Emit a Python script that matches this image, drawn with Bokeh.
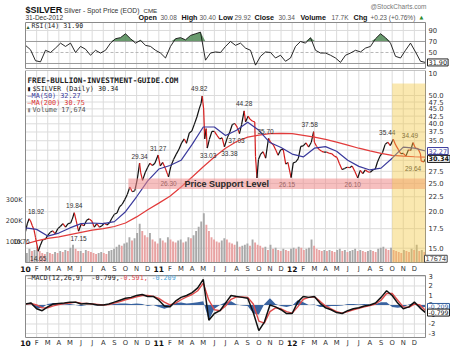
import math
import numpy as np
import pandas as pd
from bokeh.plotting import figure
from bokeh.layouts import column
from bokeh.models import (Range1d, LinearScale, Label, BoxAnnotation, ColumnDataSource)
from bokeh.core.properties import value
from bokeh.embed import file_html
from bokeh.resources import INLINE

# ---------------- data ----------------
price_dates = [
    "2010-01-01", "2010-01-06", "2010-01-11", "2010-01-15", "2010-01-20", "2010-01-25", "2010-01-29",
    "2010-02-05", "2010-02-10", "2010-02-16", "2010-02-23", "2010-03-01", "2010-03-08", "2010-03-15",
    "2010-03-22", "2010-03-29", "2010-04-05", "2010-04-12", "2010-04-19", "2010-04-26", "2010-05-03",
    "2010-05-07", "2010-05-13", "2010-05-18", "2010-05-25", "2010-06-01", "2010-06-09", "2010-06-16",
    "2010-06-23", "2010-06-30", "2010-07-07", "2010-07-14", "2010-07-21", "2010-07-28", "2010-08-04",
    "2010-08-11", "2010-08-18", "2010-08-25", "2010-09-01", "2010-09-08", "2010-09-15", "2010-09-22",
    "2010-09-29", "2010-10-06", "2010-10-13", "2010-10-20", "2010-10-27", "2010-11-03", "2010-11-09",
    "2010-11-12", "2010-11-17", "2010-11-24", "2010-12-01", "2010-12-07", "2010-12-14", "2010-12-21",
    "2010-12-30",
    "2011-01-05", "2011-01-12", "2011-01-19", "2011-01-25", "2011-01-28", "2011-02-03", "2011-02-10",
    "2011-02-17", "2011-02-24", "2011-03-03", "2011-03-10", "2011-03-16", "2011-03-24", "2011-03-31",
    "2011-04-07", "2011-04-14", "2011-04-20", "2011-04-25", "2011-04-28", "2011-05-02", "2011-05-05",
    "2011-05-09", "2011-05-12", "2011-05-18", "2011-05-25", "2011-06-01", "2011-06-08", "2011-06-15",
    "2011-06-22", "2011-06-28", "2011-07-06", "2011-07-13", "2011-07-20", "2011-07-27", "2011-08-03",
    "2011-08-09", "2011-08-15", "2011-08-22", "2011-08-26", "2011-09-02", "2011-09-07", "2011-09-14",
    "2011-09-20", "2011-09-22", "2011-09-26", "2011-09-30", "2011-10-06", "2011-10-13", "2011-10-20",
    "2011-10-28", "2011-11-03", "2011-11-10", "2011-11-17", "2011-11-23", "2011-11-30", "2011-12-07",
    "2011-12-14", "2011-12-20", "2011-12-29",
    "2012-01-04", "2012-01-11", "2012-01-18", "2012-01-25", "2012-02-01", "2012-02-08", "2012-02-15",
    "2012-02-22", "2012-02-28", "2012-03-01", "2012-03-07", "2012-03-14", "2012-03-21", "2012-03-28",
    "2012-04-04", "2012-04-11", "2012-04-18", "2012-04-25", "2012-05-02", "2012-05-09", "2012-05-16",
    "2012-05-23", "2012-05-30", "2012-06-06", "2012-06-13", "2012-06-20", "2012-06-28", "2012-07-05",
    "2012-07-12", "2012-07-19", "2012-07-26", "2012-08-02", "2012-08-09", "2012-08-16", "2012-08-22",
    "2012-08-29", "2012-09-05", "2012-09-12", "2012-09-19", "2012-09-26", "2012-10-04", "2012-10-11",
    "2012-10-18", "2012-10-25", "2012-11-01", "2012-11-08", "2012-11-15", "2012-11-21", "2012-11-27",
    "2012-12-04", "2012-12-11", "2012-12-18", "2012-12-20", "2012-12-28", "2012-12-31",
]
price_close = [
    17.10, 18.20, 18.92, 18.60, 17.90, 17.30, 16.30,
    14.65, 15.30, 16.00, 16.10, 16.60, 17.00, 17.20,
    16.80, 17.50, 17.80, 18.20, 17.70, 18.20, 18.30,
    18.80, 19.84, 18.70, 17.15, 18.10, 17.90, 18.70,
    18.90, 18.60, 17.70, 18.20, 17.70, 17.90, 18.30,
    18.00, 18.30, 19.00, 19.60, 19.80, 20.80, 21.20,
    22.00, 22.90, 24.30, 23.40, 23.60, 25.90, 29.34,
    27.20, 25.60, 27.20, 28.40, 29.30, 28.80, 29.30,
    31.27,
    28.70, 29.50, 28.20, 26.90, 26.30, 28.50, 30.20,
    31.50, 32.80, 34.50, 35.50, 34.30, 37.20, 37.80,
    39.90, 42.30, 45.00, 47.00, 49.82, 45.00, 35.50,
    38.50, 33.03, 35.40, 37.70, 37.70, 36.50, 35.50,
    35.80, 33.38, 35.80, 37.50, 39.80, 40.10, 38.90,
    37.03, 39.80, 44.28, 40.60, 42.50, 41.50, 40.80,
    40.60, 30.90, 26.10, 30.20, 31.50, 32.10, 30.50,
    35.70, 34.50, 33.90, 32.50, 31.20, 32.60, 32.70,
    29.10, 29.50, 26.15,
    29.40, 29.60, 30.40, 33.50, 33.60, 34.40, 33.30,
    34.60, 37.58, 34.60, 33.50, 32.70, 32.20, 32.00,
    32.00, 31.70, 31.60, 31.00, 30.70, 29.20, 27.90,
    28.10, 28.40, 28.30, 28.70, 27.50, 26.10, 27.70,
    27.00, 27.80, 27.40, 27.30, 27.80, 28.00, 29.60,
    31.00, 31.90, 34.00, 34.60, 33.70, 35.44, 33.80,
    32.70, 31.60, 31.70, 31.00, 32.60, 32.40, 34.49,
    33.00, 32.90, 31.50, 29.80, 29.64, 30.34,
]

# labelled swing highs / lows
ext_dates = ["2010-01-11", "2010-02-05", "2010-05-13", "2010-05-25", "2010-11-09", "2010-12-30",
             "2011-01-28", "2011-04-28", "2011-05-12", "2011-06-28", "2011-08-09", "2011-08-22",
             "2011-10-28", "2011-12-29", "2012-02-28", "2012-06-28", "2012-10-04", "2012-11-27",
             "2012-12-28"]
ext_values = [18.92, 14.65, 19.84, 17.15, 29.34, 31.27, 26.30, 49.82, 33.03, 33.38, 37.03, 44.28,
              35.70, 26.15, 37.58, 26.10, 35.44, 34.49, 29.64]
ext_kind = ["H", "L", "H", "L", "H", "H", "L", "H", "L", "L", "L", "H",
            "H", "L", "H", "L", "H", "H", "L"]
ext_nudge = [7, 0, 0, 0, 0, 0, 0, -3, 1, 5, -3, 0, -3, -4, -4, -5, -6, -3, -11]  # style: px shifts

ma_months = list(range(37))
ma50 = [17.6, 17.4, 16.5, 16.9, 17.6, 18.2, 18.3, 18.2, 18.5, 20.0,
        22.5, 25.5, 28.0, 28.8, 30.0, 34.0, 39.0, 39.0, 36.5, 38.0,
        40.5, 38.0, 34.5, 33.2, 31.5, 30.8, 33.0, 33.4, 32.2, 30.0,
        28.6, 27.8, 28.2, 30.5, 33.3, 33.0, 32.27]
ma200 = [15.5, 15.9, 16.2, 16.4, 16.7, 17.0, 17.3, 17.5, 17.8, 18.3,
         19.2, 20.3, 21.4, 22.6, 24.3, 26.3, 28.5, 30.8, 33.0, 34.8,
         36.0, 36.6, 37.0, 37.1, 37.0, 36.5, 36.0, 35.4, 34.6, 33.8,
         33.0, 32.3, 31.7, 31.2, 31.0, 30.85, 30.75]

volume_k = [
    45, 65, 55, 60, 75, 55, 45, 40, 50, 45, 40, 50, 45,
    55, 50, 60, 55, 70, 85, 65, 55, 55, 45, 60, 55, 50,
    45, 40, 45, 50, 45, 40, 55, 60, 65, 75, 85, 80, 90,
    95, 120, 105, 115, 140, 185, 150, 130, 120, 140, 110, 100, 90,
    115, 105, 95, 120, 110, 100, 95, 105, 110, 95, 100, 120, 115,
    130, 150, 170, 195, 235, 180, 150, 120, 110, 100, 95, 105, 115,
    110, 95, 90, 85, 100, 75, 80, 85, 90, 80, 110, 95, 85,
    80, 70, 75, 60, 85, 65, 70, 60, 55, 65, 60, 55, 65,
    70, 65, 75, 70, 60, 65, 70, 110, 80, 65, 60, 55, 60,
    55, 60, 55, 50, 60, 65, 55, 60, 50, 55, 60, 65, 55,
    60, 55, 50, 55, 60, 55, 50, 65, 70, 75, 65, 60, 70,
    60, 55, 50, 45, 60, 55, 50, 65, 60, 85, 55, 60, 50,
]

rsi_vals = [63, 55, 35, 33, 54, 50, 58, 67, 61, 67, 50, 61, 56, 45, 54, 49, 54, 67, 75, 77,
            84, 75, 67, 72, 63, 61, 54, 49, 40, 61, 75, 77, 73, 81, 84, 87, 36, 49, 51, 50,
            61, 70, 63, 67, 58, 54, 27, 43, 51, 50, 40, 45, 34, 40, 61, 70, 67, 77, 54, 49,
            49, 45, 40, 32, 45, 49, 54, 51, 58, 61, 75, 84, 77, 67, 43, 40, 54, 67, 51, 34, 31.9]

macd_vals = [0.1, 0.2, -0.4, -0.6, -0.2, 0.1, 0.15, 0.2, 0.3, 0.3,
             0.1, 0.15, 0.1, 0.0, 0.0, 0.1, 0.3, 0.5, 0.7, 0.8,
             1.0, 1.1, 0.9, 0.9, 0.5, -0.1, -0.2, 0.4, 0.8, 1.0,
             1.3, 1.8, 2.7, -1.6, -0.9, -0.6, 0.2, 1.0, 0.9, 0.8,
             0.7, -0.8, -2.7, -1.8, 0.0, -0.2, -0.5, -0.9, -0.9, 0.3,
             0.9, 0.8, 0.9, 0.2, -0.3, -0.5, -0.8, -0.9, -0.6, -0.4,
             -0.3, -0.1, 0.0, 0.2, 0.8, 1.5, 1.0, 0.2, -0.4, -0.2,
             0.3, -0.3, -0.799]
signal_vals = [0.1, 0.15, 0.0, -0.3, -0.3, -0.1, 0.05, 0.15, 0.2, 0.3,
               0.2, 0.15, 0.1, 0.05, 0.0, 0.05, 0.2, 0.35, 0.55, 0.7,
               0.85, 1.0, 1.0, 0.9, 0.7, 0.3, 0.0, 0.2, 0.55, 0.85,
               1.1, 1.5, 2.3, 0.5, -0.5, -0.6, -0.1, 0.6, 0.85, 0.85,
               0.8, 0.1, -1.7, -1.9, -0.7, -0.3, -0.4, -0.7, -0.85, -0.2,
               0.6, 0.8, 0.85, 0.4, -0.1, -0.4, -0.7, -0.85, -0.7, -0.5,
               -0.35, -0.2, -0.05, 0.1, 0.5, 1.2, 1.2, 0.5, -0.2, -0.25,
               0.1, 0.0, -0.591]
hist_vals = [0.0, 0.05, -0.4, -0.3, 0.1, 0.2, 0.1, 0.05, 0.1, 0.0,
             -0.1, 0.0, 0.0, -0.05, 0.0, 0.05, 0.1, 0.15, 0.15, 0.1,
             0.15, 0.1, -0.1, 0.0, -0.2, -0.4, -0.2, 0.2, 0.25, 0.15,
             0.2, 0.3, 0.4, -1.6, -0.4, 0.0, 0.3, 0.4, 0.05, -0.05,
             -0.1, -0.9, -1.0, 0.1, 0.7, 0.1, -0.1, -0.2, -0.05, 0.5,
             0.3, 0.0, 0.05, -0.2, -0.2, -0.1, -0.1, -0.05, 0.1, 0.1,
             0.05, 0.1, 0.05, 0.1, 0.3, 0.3, -0.2, -0.3, -0.2, 0.05,
             0.2, -0.3, -0.209]

month_letters = ["J", "F", "M", "A", "M", "J", "J", "A", "S", "O", "N", "D"]
year_labels = ["10", "11", "12"]
price_ticks = [15.0, 17.5, 20.0, 22.5, 25.0, 27.5, 30.0, 32.5, 35.0, 37.5, 40.0, 42.5, 45.0, 47.5, 50.0]
rsi_ticks = [10, 30, 50, 70, 90]
macd_ticks = [-3, -2, -1, 0, 1, 2, 3]
vol_ticks = [100000, 200000, 300000]
vol_tick_labels = ["100K", "200K", "300K"]

support_low, support_high, support_start = 23.9, 26.0, "2010-10-09"
highlight_start = "2012-10-01"

# ---------------- geometry helpers (page pixels -> data) ----------------
PXM = 400 / 36.0
XR = (-25 / PXM, 36 + 25 / PXM)
RSI_TOP, RSI_BOT = 104.5, 20.9          # RSI panel frame 22..68 px
PMAX, PMIN = 60.9, 13.4                 # price panel frame 70..262 px
VPX = 21.0 / 100000                     # volume px per unit, zero at 262 px
M_TOP, M_BOT = 3.1, -3.42               # MACD panel frame 275..337 px


def to_month(d):
    t = pd.Timestamp(d)
    return (t.year - 2010) * 12 + (t.month - 1) + (t.day - 1) / t.days_in_month


def mx(px):
    return (px - 25) / PXM


def y_rsi(py):
    return RSI_TOP - (py - 22) / 46.0 * (RSI_TOP - RSI_BOT)


def y_main(py):
    return math.exp(math.log(PMAX) - (py - 70) / 192.0 * (math.log(PMAX) - math.log(PMIN)))


def y_vol(py):
    return (262 - py) / VPX


def y_macd(py):
    return M_TOP - (py - 275) / 62.0 * (M_TOP - M_BOT)


AX_FONT = "DejaVu Sans"
MONO = "DejaVu Sans Mono"
SANS = "Liberation Sans"
GRID = "#dcdcdc"
BORDER = "#8a8a8a"
month_ticks = list(range(36))


def panel_fig(height, yr, ytype="linear"):
    p = figure(width=450, height=height, x_range=Range1d(*XR), y_range=yr, y_axis_type=ytype,
               x_axis_location=None, y_axis_location=None, output_backend="svg",
               toolbar_location=None, min_border=0)
    p.min_border_left = p.min_border_right = p.min_border_top = p.min_border_bottom = 0
    p.outline_line_color = None
    p.grid.visible = False
    return p


def draw_grid(p, yticks, ybot, ytop):
    vt = month_ticks[1:]
    p.segment(x0=vt, y0=[ybot] * len(vt), x1=vt, y1=[ytop] * len(vt), line_color=GRID, line_width=1)
    p.segment(x0=[0] * len(yticks), y0=yticks, x1=[36] * len(yticks), y1=yticks,
              line_color=GRID, line_width=1)


def draw_border(p, ybot, ytop):
    p.quad(left=[0], right=[36], bottom=[ybot], top=[ytop], fill_color=None, line_color=BORDER)


def ylabels(p, ticks, texts, **kw):
    p.text(x=[mx(428)] * len(ticks), y=ticks, text=texts, text_font=value(AX_FONT),
           text_font_size="6.8px", text_color="#333333", text_baseline="middle",
           text_align="left", **kw)


def xlabels(p, y):
    nm = [i for i in month_ticks if i % 12]
    p.text(x=nm, y=[y] * len(nm), text=[month_letters[i % 12] for i in nm],
           text_font=value(AX_FONT), text_font_size="6.8px", text_color="#333333",
           text_align="center", text_baseline="middle")
    yr = [i for i in month_ticks if i % 12 == 0]
    p.text(x=yr, y=[y] * len(yr), text=year_labels, text_font=value(AX_FONT),
           text_font_size="7.5px", text_font_style="bold", text_color="#111111",
           text_align="center", text_baseline="middle")


def lab(p, px, y, text, font=MONO, size="6.8px", color="#222222", style="normal", align="left", **kw):
    p.add_layout(Label(x=mx(px), y=y, text=text, text_font=font, text_font_size=size,
                       text_color=color, text_font_style=style, text_align=align,
                       text_baseline="middle", **kw))


def box(p, px, y, text, color, bold=False, size="6.5px", **kw):
    p.add_layout(Label(x=mx(px), y=y, text=text, text_font=AX_FONT, text_font_size=size,
                       text_font_style=("bold" if bold else "normal"), text_color=color,
                       text_baseline="middle", border_line_color=color,
                       background_fill_color="white", padding=1, **kw))


# ---------------- header + RSI panel (page 0..70 px) ----------------
pr = panel_fig(70, Range1d(y_rsi(70), y_rsi(0)))
draw_grid(pr, [90], RSI_BOT, RSI_TOP)
rsi_x = np.linspace(0, 36, len(rsi_vals))
rsi_arr = np.array(rsi_vals, dtype=float)
pr.varea(x=rsi_x, y1=np.full(len(rsi_arr), 70.0), y2=np.maximum(rsi_arr, 70.0),
         fill_color="#4f8a55", fill_alpha=0.85)
pr.segment(x0=[0, 0], y0=[70, 30], x1=[36, 36], y1=[70, 30], line_color="#9a9a9a", line_width=1)
pr.segment(x0=[0], y0=[50], x1=[36], y1=[50], line_color="#b8b8b8", line_width=1, line_dash="3 2")
pr.line(rsi_x, rsi_arr, line_color="#111111", line_width=0.9)
draw_border(pr, RSI_BOT, RSI_TOP)
ylabels(pr, rsi_ticks[1:], [str(t) for t in rsi_ticks[1:]])

lab(pr, 25, y_rsi(9), "$SILVER", font=SANS, size="9px", style="bold", color="#111111")
lab(pr, 63.5, y_rsi(9.5), "Silver - Spot Price (EOD)", font=SANS, size="6.8px", color="#333333")
lab(pr, 143, y_rsi(10), "CME", font=SANS, size="6.2px", color="#333333")
lab(pr, 25, y_rsi(16.5), "31-Dec-2012", font=SANS, size="6.5px", color="#333333")
lab(pr, 426, y_rsi(6), "@StockCharts.com", font=SANS, size="6.5px", color="#777777", align="right")
hdr = [("Open", 138, True), ("30.08", 160, False), ("High", 181, True), ("30.40", 199, False),
       ("Low", 218, True), ("29.92", 234, False), ("Close", 254, True), ("30.34", 278, False),
       ("Volume", 300, True), ("17.7K", 331, False), ("Chg", 353, True),
       ("+0.23 (+0.76%)", 370, False)]
for t, x0, b in hdr:
    lab(pr, x0, y_rsi(16.5), t, font=SANS, size=("7.2px" if b else "6.5px"),
        style=("bold" if b else "normal"), color=("#111111" if b else "#555555"))
lab(pr, 419, y_rsi(16.5), "\u25b2", font=AX_FONT, size="5px", color="#2e8b2e")
lab(pr, 26, y_rsi(25.5), "\u25b4", font=AX_FONT, size="6px", color="#2b5a2b")
lab(pr, 31, y_rsi(25.5), "RSI(14) 31.90", size="6.6px", color="#222222")
box(pr, 427, 31.9, "31.90", "#222222")

# ---------------- main price panel (page 70..272 px) ----------------
pm = panel_fig(202, Range1d(y_main(272), y_main(70)), ytype="log")
pm.extra_y_ranges = {"vol": Range1d(y_vol(272), y_vol(70))}
pm.extra_y_scales = {"vol": LinearScale()}
draw_grid(pm, price_ticks, PMIN, PMAX)

vol = np.array(volume_k, dtype=float) * 1000
vol_x = np.linspace(0.12, 35.9, len(vol))
vol_col = ["#a9a9a9"] + ["#a9a9a9" if b >= a else "#e8a2a2" for a, b in zip(vol[:-1], vol[1:])]
pm.vbar(x=vol_x, top=vol, bottom=0, width=0.17, fill_color=vol_col, line_color=None,
        y_range_name="vol")

px_ = [to_month(d) for d in price_dates]
seg = ColumnDataSource(dict(
    x0=px_[:-1], y0=price_close[:-1], x1=px_[1:], y1=price_close[1:],
    c=["#d41c1c" if b < a else "#111111" for a, b in zip(price_close[:-1], price_close[1:])]))
pm.segment("x0", "y0", "x1", "y1", source=seg, line_color="c", line_width=1.2)
pm.line(ma_months, ma200, line_color="#e23b3b", line_width=1.2)
pm.line(ma_months, ma50, line_color="#3a3a9c", line_width=1.2)

ext_src = ColumnDataSource(dict(
    x=[to_month(d) for d in ext_dates], y=ext_values, t=[f"{v:.2f}" for v in ext_values],
    dy=[-7 if k == "H" else 7 for k in ext_kind], dx=ext_nudge))
pm.text(x="x", y="y", text="t", x_offset="dx", y_offset="dy", source=ext_src,
        text_font=value(SANS), text_font_size="6.5px", text_align="center",
        text_baseline="middle", text_color="#333333")

pm.add_layout(BoxAnnotation(left=to_month(support_start), right=36, bottom=support_low,
                            top=support_high, fill_color="#ee8a8a", fill_alpha=0.55, line_color=None))
pm.add_layout(BoxAnnotation(left=to_month(highlight_start), right=36, bottom=PMIN, top=y_main(83),
                            fill_color="#f4c742", fill_alpha=0.42, line_color=None))
pm.add_layout(Label(x=mx(184), y=math.sqrt(support_low * support_high), text="Price Support Level",
                    text_font=SANS, text_font_size="9px", text_font_style="bold",
                    text_color="#2a2a2a", text_baseline="middle"))
draw_border(pm, PMIN, PMAX)

ylabels(pm, price_ticks, [f"{t:.1f}" for t in price_ticks])
pm.text(x=[mx(22)] * len(vol_ticks), y=vol_ticks, text=vol_tick_labels, y_range_name="vol",
        text_font=value(AX_FONT), text_font_size="6.5px", text_color="#333333",
        text_align="right", text_baseline="middle")
xlabels(pm, y_main(268))

lab(pm, 27, y_main(80), "FREE-BULLION-INVESTMENT-GUIDE.COM", size="7.6px", style="bold", color="#222222")
lab(pm, 26.5, y_main(88.5), "\u25ae", size="6.8px", color="#111111")
lab(pm, 32, y_main(88.5), "$SILVER (Daily) 30.34", size="6.8px", color="#222222")
lab(pm, 27, y_main(95.5), "\u2014MA(50) 32.27", size="6.8px", color="#3a3a9c")
lab(pm, 27, y_main(102.5), "\u2014MA(200) 30.75", size="6.8px", color="#dd3333")
lab(pm, 26.5, y_main(109.5), "\u25ae", size="6.8px", color="#888888")
lab(pm, 32, y_main(109.5), "Volume 17,674", size="6.8px", color="#555555")
lab(pm, 428, y_main(73), str(rsi_ticks[0]), font=AX_FONT, size="6.8px", color="#333333")
lab(pm, 29, y_main(240.5), "16.76", font=SANS, size="6.5px", color="#333333", align="right")

box(pm, 427, 32.27, "32.27", "#3a3a9c")
box(pm, 427, 30.34, "30.34", "#111111", bold=True)
box(pm, 424, 17674, "17674", "#444444", y_range_name="vol")

# ---------------- MACD panel (page 272..348 px) ----------------
pc = panel_fig(76, Range1d(y_macd(348), y_macd(272)))
draw_grid(pc, macd_ticks, M_BOT, M_TOP)
macd_x = np.linspace(0, 36, len(macd_vals))
pc.varea(x=macd_x, y1=np.zeros(len(hist_vals)), y2=hist_vals, fill_color="#2f5c9c", fill_alpha=0.95)
pc.line(macd_x, signal_vals, line_color="#e04a4a", line_width=1.4)
pc.line(macd_x, macd_vals, line_color="#111111", line_width=1.5)
draw_border(pc, M_BOT, M_TOP)
ylabels(pc, macd_ticks, [str(t) for t in macd_ticks])
xlabels(pc, y_macd(342))
lab(pc, 27, y_macd(277), "\u2014MACD(12,26,9)", size="6.7px", color="#222222")
lab(pc, 91, y_macd(277), "-0.799,", size="6.7px", color="#222222")
lab(pc, 119, y_macd(277), "-0.591,", size="6.7px", color="#e04a4a")
lab(pc, 151, y_macd(277), "-0.209", size="6.7px", color="#4aa3d8")
box(pc, 427, -0.209, "-0.209", "#2f5c9c", size="6.2px")
box(pc, 427, -0.799, "-0.799", "#111111", size="6.2px")

layout = column(pr, pm, pc, spacing=0)
open("out.html", "w").write(file_html(layout, INLINE))
